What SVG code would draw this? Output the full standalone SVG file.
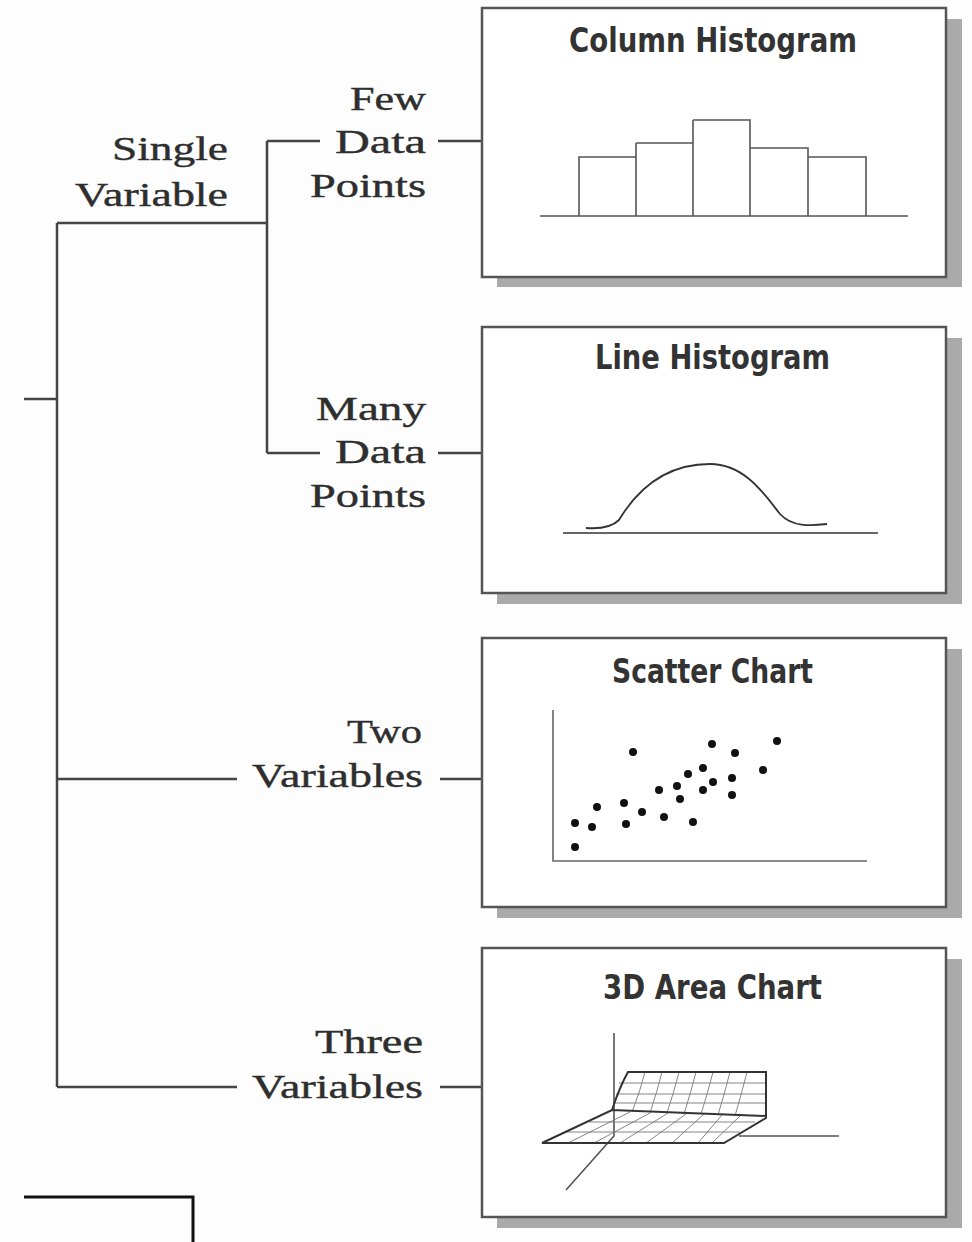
<svg xmlns="http://www.w3.org/2000/svg" width="972" height="1242" viewBox="0 0 972 1242">
<style>
.bg{fill:#fdfdfd}
.lbl{font-family:"Liberation Serif","Times New Roman",serif;font-size:34px;fill:#2e2e2e;stroke:#2e2e2e;stroke-width:0.4}
.ttl{font-family:"DejaVu Sans Condensed","DejaVu Sans","Liberation Sans",sans-serif;font-weight:bold;font-size:34px;fill:#333}
.shadow{fill:#aaaaaa}
.box{fill:#fff;stroke:#555;stroke-width:2.5}
.conn{fill:none;stroke:#444;stroke-width:2.5}
.art{fill:none;stroke:#555;stroke-width:1.6}
.grid{fill:none;stroke:#777;stroke-width:0.9}
.dot{fill:#111}
</style>
<rect class="bg" x="0" y="0" width="972" height="1242"/>

<g id="connectors">
  <path class="conn" d="M24,399 H57"/>
  <path class="conn" d="M57,223 V1087"/>
  <path class="conn" d="M57,223 H267"/>
  <path class="conn" d="M267,141 V453"/>
  <path class="conn" d="M267,141 H320 M438,141 H482"/>
  <path class="conn" d="M267,453 H320 M438,453 H482"/>
  <path class="conn" d="M57,779 H237 M440,779 H482"/>
  <path class="conn" d="M57,1087 H237 M440,1087 H482"/>
  <path class="conn" style="stroke:#111;stroke-width:3" d="M24,1197 H193 V1242"/>
</g>

<g id="labels">
  <text class="lbl" x="112" y="160" textLength="116" lengthAdjust="spacingAndGlyphs">Single</text>
  <text class="lbl" x="75" y="206" textLength="153" lengthAdjust="spacingAndGlyphs">Variable</text>
  <text class="lbl" x="350" y="110" textLength="76" lengthAdjust="spacingAndGlyphs">Few</text>
  <text class="lbl" x="335" y="153" textLength="91" lengthAdjust="spacingAndGlyphs">Data</text>
  <text class="lbl" x="310" y="197" textLength="116" lengthAdjust="spacingAndGlyphs">Points</text>
  <text class="lbl" x="316" y="420" textLength="110" lengthAdjust="spacingAndGlyphs">Many</text>
  <text class="lbl" x="335" y="463" textLength="91" lengthAdjust="spacingAndGlyphs">Data</text>
  <text class="lbl" x="310" y="507" textLength="116" lengthAdjust="spacingAndGlyphs">Points</text>
  <text class="lbl" x="347" y="743" textLength="75" lengthAdjust="spacingAndGlyphs">Two</text>
  <text class="lbl" x="252" y="787" textLength="171" lengthAdjust="spacingAndGlyphs">Variables</text>
  <text class="lbl" x="315" y="1053" textLength="108" lengthAdjust="spacingAndGlyphs">Three</text>
  <text class="lbl" x="252" y="1098" textLength="171" lengthAdjust="spacingAndGlyphs">Variables</text>
</g>

<g id="column-histogram">
  <rect class="shadow" x="497" y="19" width="465" height="268"/>
  <rect class="box" x="482" y="8" width="464" height="269"/>
  <text class="ttl" x="569" y="52" textLength="288" lengthAdjust="spacingAndGlyphs">Column Histogram</text>
  <path class="art" d="M540,216 H908"/>
  <path class="art" d="M579,216 V157 H636 V216 M636,143 H693 V216 M636,216 V143 M693,120 H750 V216 M693,216 V120 M750,148 H808 V216 M808,157 H866 V216"/>
</g>

<g id="line-histogram">
  <rect class="shadow" x="497" y="338" width="465" height="266"/>
  <rect class="box" x="482" y="327" width="464" height="266"/>
  <text class="ttl" x="595" y="369" textLength="235" lengthAdjust="spacingAndGlyphs">Line Histogram</text>
  <path class="art" style="stroke:#333" d="M563,533 H878"/>
  <path class="art" style="stroke:#333;stroke-width:1.8" d="M586,528 C600,529 612,527 619,520 C637,490 665,464 710,464 C745,464 765,495 780,514 C792,527 810,526 827,524"/>
</g>

<g id="scatter-chart">
  <rect class="shadow" x="497" y="649" width="465" height="269"/>
  <rect class="box" x="482" y="638" width="464" height="269"/>
  <text class="ttl" x="612" y="683" textLength="201" lengthAdjust="spacingAndGlyphs">Scatter Chart</text>
  <path class="art" style="stroke:#666" d="M553,710 V861 H867"/>
  <g class="dot">
    <circle cx="633" cy="752" r="4"/><circle cx="712" cy="744" r="4"/><circle cx="735" cy="753" r="4"/>
    <circle cx="777" cy="741" r="4"/><circle cx="703" cy="768" r="4"/><circle cx="688" cy="774" r="4"/>
    <circle cx="763" cy="770" r="4"/><circle cx="732" cy="778" r="4"/><circle cx="713" cy="782" r="4"/>
    <circle cx="677" cy="786" r="4"/><circle cx="659" cy="790" r="4"/><circle cx="703" cy="790" r="4"/>
    <circle cx="680" cy="799" r="4"/><circle cx="732" cy="795" r="4"/><circle cx="597" cy="807" r="4"/>
    <circle cx="624" cy="803" r="4"/><circle cx="642" cy="812" r="4"/><circle cx="664" cy="817" r="4"/>
    <circle cx="693" cy="822" r="4"/><circle cx="575" cy="823" r="4"/><circle cx="592" cy="827" r="4"/>
    <circle cx="626" cy="824" r="4"/><circle cx="575" cy="847" r="4"/>
  </g>
</g>

<g id="area-chart-3d">
  <rect class="shadow" x="497" y="959" width="465" height="269"/>
  <rect class="box" x="482" y="948" width="464" height="269"/>
  <text class="ttl" x="603" y="999" textLength="219" lengthAdjust="spacingAndGlyphs">3D Area Chart</text>
  <path class="art" style="stroke:#555" d="M614,1033 V1136 L566,1190 M739,1136 H839"/>
  <path class="grid" d="M619,1083 H766 M616,1094 H766 M614,1103 H766
    M645,1072 Q640,1092 632,1112 M662,1072 Q657,1092 650,1113 M679,1072 Q674,1092 667,1113 M696,1072 Q691,1092 684,1114 M713,1072 Q708,1092 701,1114 M730,1072 Q725,1092 718,1115 M747,1072 Q742,1092 735,1116
    M589,1122 H755 M567,1132 H740
    M630,1112 L568,1143 M650,1113 L594,1143 M668,1113 L620,1143 M686,1114 L646,1143 M704,1114 L672,1143 M722,1115 L698,1143 M740,1116 L712,1143"/>
  <path class="art" style="stroke:#333;stroke-width:2" d="M612,1110 Q620,1086 628,1072 H766 V1118 L724,1143 H542 L612,1110 L766,1116"/>
</g>
</svg>
